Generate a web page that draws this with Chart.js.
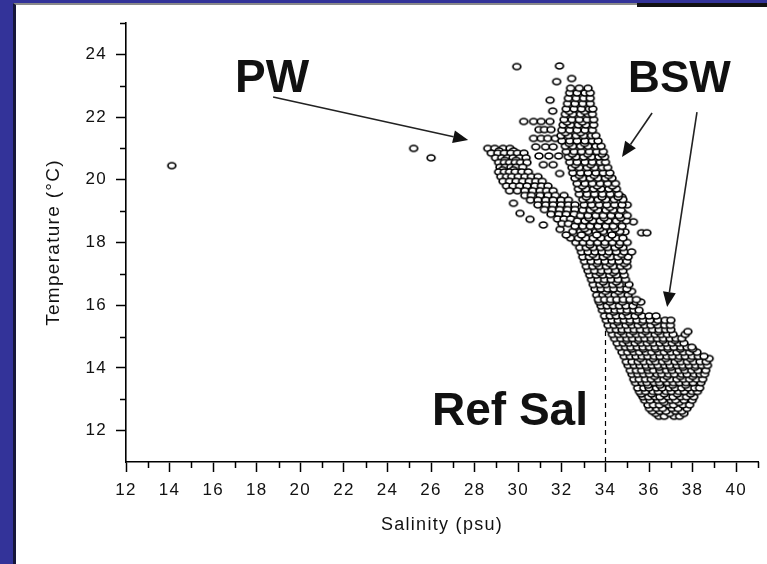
<!DOCTYPE html>
<html lang="en">
  <head>
    <meta charset="utf-8" />
    <title>Temperature vs Salinity</title>
    <script src="https://cdn.jsdelivr.net/npm/chart.js@4.4.1/dist/chart.umd.min.js"></script>
    <style>
      body {
        margin: 0;
        width: 767px;
        height: 564px;
        background: #333399;
        overflow: hidden;
        position: relative;
      }
      #panel {
        position: absolute;
        left: 13px;
        top: 3px;
        right: 0;
        bottom: 0;
        background: #fff;
        border-left: 3px solid #16163a;
        border-top: 2px solid #8a8a8a;
      }
      #bar {
        position: absolute;
        left: 637px;
        top: 3px;
        width: 130px;
        height: 4px;
        background: #111;
      }
      #tsChart {
        position: absolute;
        left: 0;
        top: 0;
      }
    </style>
  </head>
  <body>
    <div id="panel"></div>
    <div id="bar"></div>
    <canvas id="tsChart" width="767" height="564"></canvas>

    <script>
      // rows are [temperature, salinity, salinity, ...]
      var lowerBand = [
        [12.46, 36.45, 36.7, 37.15, 37.4],
        [12.55, 36.3, 36.95, 37.6],
        [12.62, 36.15, 36.5, 36.78, 37.22, 37.5],
        [12.71, 36.02, 36.35, 36.62, 37.05, 37.33, 37.74],
        [12.82, 35.95, 36.2, 36.48, 36.9, 37.12, 37.55, 37.86],
        [12.9, 36.7, 37.38],
        [12.97, 35.8, 36.05, 36.4, 36.62, 37.0, 37.22, 37.6, 37.98],
        [13.08, 35.72, 35.98, 36.28, 36.5, 36.86, 37.1, 37.45, 37.72, 38.05],
        [13.17, 35.64, 36.12, 36.7, 37.3, 37.9],
        [13.25, 35.56, 35.84, 36.18, 36.42, 36.78, 37.02, 37.36, 37.62, 37.98, 38.22],
        [13.36, 35.48, 35.76, 36.0, 36.34, 36.6, 36.94, 37.2, 37.5, 37.8, 38.1, 38.32],
        [13.45, 35.95, 36.5, 37.08, 37.68],
        [13.53, 35.38, 35.68, 35.9, 36.24, 36.48, 36.84, 37.12, 37.4, 37.7, 38.02, 38.38],
        [13.64, 35.3, 35.55, 35.84, 36.1, 36.4, 36.68, 36.98, 37.28, 37.58, 37.86, 38.18, 38.46],
        [13.73, 36.25, 36.82, 37.44, 38.0],
        [13.8, 35.22, 35.48, 35.75, 36.02, 36.36, 36.58, 36.9, 37.16, 37.5, 37.74, 38.08, 38.34, 38.55],
        [13.92, 35.14, 35.42, 35.66, 35.96, 36.2, 36.5, 36.8, 37.06, 37.38, 37.64, 37.96, 38.24, 38.6],
        [14.02, 35.9, 36.46, 37.0, 37.56, 38.1],
        [14.08, 35.04, 35.32, 35.58, 35.86, 36.14, 36.4, 36.72, 36.96, 37.28, 37.54, 37.84, 38.14, 38.42, 38.68],
        [14.2, 34.96, 35.22, 35.5, 35.76, 36.06, 36.3, 36.62, 36.88, 37.2, 37.46, 37.76, 38.04, 38.34, 38.62],
        [14.3, 35.6, 36.18, 36.76, 37.34, 37.9, 38.76],
        [14.37, 34.86, 35.14, 35.4, 35.68, 35.94, 36.24, 36.5, 36.82, 37.08, 37.4, 37.66, 37.98, 38.26, 38.52],
        [14.5, 34.76, 35.02, 35.3, 35.56, 35.86, 36.12, 36.44, 36.7, 37.0, 37.28, 37.58, 37.86, 38.2],
        [14.6, 35.2, 35.74, 36.3, 36.86, 37.44, 38.0],
        [14.66, 34.64, 34.92, 35.16, 35.46, 35.72, 36.02, 36.28, 36.58, 36.86, 37.14, 37.46, 37.74, 37.96],
        [14.79, 34.54, 34.82, 35.08, 35.36, 35.64, 35.92, 36.2, 36.5, 36.78, 37.06, 37.36, 37.6],
        [14.88, 34.96, 35.5, 36.06, 36.64, 37.2],
        [14.94, 34.42, 34.7, 34.98, 35.24, 35.54, 35.8, 36.1, 36.38, 36.66, 36.96, 37.24, 37.5],
        [15.07, 34.32, 34.6, 34.86, 35.14, 35.42, 35.7, 35.98, 36.28, 36.56, 36.84, 37.1, 37.66],
        [15.16, 34.72, 35.28, 35.84, 36.42, 37.78],
        [15.22, 34.22, 34.5, 34.76, 35.04, 35.32, 35.6, 35.9, 36.16, 36.46, 36.76, 37.0],
        [15.36, 34.12, 34.4, 34.66, 34.94, 35.22, 35.5, 35.8, 36.08, 36.4, 36.72, 36.98],
        [15.46, 34.55, 35.1, 35.66, 36.28],
        [15.52, 34.04, 34.3, 34.58, 34.86, 35.14, 35.44, 35.74, 36.04, 36.4, 36.74, 37.0],
        [15.66, 33.96, 34.22, 34.5, 34.8, 35.06, 35.36, 35.68, 36.0, 36.32],
        [15.78, 34.38, 34.94, 35.5],
        [15.84, 33.86, 34.14, 34.44, 34.7, 35.0, 35.3, 35.54],
        [15.98, 33.8, 34.08, 34.36, 34.64, 34.94, 35.26],
        [16.1, 33.72, 34.2, 34.78, 35.4, 35.62],
        [16.18, 33.68, 33.96, 34.24, 34.52, 34.82, 35.12, 35.42],
      ];

      var midBand = [
        [16.32, 33.6, 33.88, 34.16, 34.44, 34.74, 35.04],
        [16.44, 34.0, 34.6, 35.2],
        [16.52, 33.52, 33.8, 34.1, 34.38, 34.7, 34.98],
        [16.66, 33.44, 33.74, 34.02, 34.34, 34.64, 35.08],
        [16.74, 33.9, 34.5],
        [16.82, 33.36, 33.66, 33.96, 34.26, 34.58, 34.92],
        [16.96, 33.28, 33.58, 33.88, 34.2, 34.5, 34.86],
        [17.04, 33.74, 34.36],
        [17.1, 33.2, 33.5, 33.82, 34.12, 34.46, 34.8],
        [17.24, 33.12, 33.42, 33.72, 34.04, 34.36, 34.7, 35.0],
        [17.33, 33.6, 34.2, 34.86],
        [17.4, 33.04, 33.34, 33.66, 33.98, 34.3, 34.62, 34.98],
        [17.54, 32.96, 33.26, 33.58, 33.9, 34.24, 34.56, 35.04],
        [17.62, 33.42, 34.06, 34.74],
        [17.7, 32.9, 33.2, 33.52, 33.84, 34.16, 34.5, 34.86, 35.2],
        [17.84, 32.82, 33.12, 33.44, 33.78, 34.1, 34.44, 34.8],
        [17.92, 33.28, 33.96, 34.62],
        [18.0, 32.64, 32.98, 33.3, 33.64, 33.98, 34.32, 34.68, 35.0],
        [18.14, 32.4, 32.76, 33.1, 33.44, 33.8, 34.14, 34.5, 34.8],
        [18.24, 32.2, 32.9, 33.6, 34.3],
      ];

      var rightBranch = [
        [18.35, 32.5, 32.86, 33.2, 33.56, 33.9, 34.26, 34.66],
        [18.44, 33.04, 33.74, 34.44],
        [18.52, 32.6, 32.96, 33.3, 33.66, 34.02, 34.36, 34.76],
        [18.69, 32.72, 33.06, 33.42, 33.76, 34.12, 34.5, 34.96],
        [18.78, 33.24, 33.94, 34.7],
        [18.86, 32.86, 33.2, 33.56, 33.9, 34.26, 34.62, 35.0],
        [19.03, 32.96, 33.3, 33.66, 34.02, 34.36, 34.72],
        [19.12, 33.48, 34.2],
        [19.2, 33.02, 33.36, 33.72, 34.06, 34.42, 34.76],
        [19.37, 32.96, 33.3, 33.66, 34.02, 34.4, 34.8],
        [19.45, 33.12, 33.84, 34.58],
        [19.54, 32.8, 33.16, 33.5, 33.86, 34.22, 34.6],
        [19.71, 32.76, 33.1, 33.46, 33.8, 34.16, 34.5],
        [19.8, 32.94, 33.62, 34.32],
        [19.88, 32.7, 33.06, 33.4, 33.76, 34.1, 34.46],
        [20.05, 32.6, 32.96, 33.3, 33.66, 34.0, 34.3],
        [20.14, 32.8, 33.48, 34.14],
        [20.22, 32.5, 32.86, 33.2, 33.56, 33.9, 34.2],
        [20.39, 32.46, 32.8, 33.16, 33.5, 33.86, 34.1],
        [20.48, 32.62, 33.32],
        [20.56, 32.36, 32.7, 33.06, 33.4, 33.76, 34.0],
        [20.73, 32.3, 32.66, 33.0, 33.36, 33.7, 33.96],
        [20.82, 32.48, 33.18, 33.84],
        [20.9, 32.2, 32.56, 32.9, 33.26, 33.6, 33.9],
        [21.07, 32.16, 32.5, 32.86, 33.2, 33.56, 33.8],
        [21.16, 32.34, 33.04],
        [21.24, 32.0, 32.36, 32.7, 33.06, 33.4, 33.66],
        [21.41, 31.96, 32.3, 32.66, 33.0, 33.36, 33.56],
        [21.5, 32.16, 32.86],
        [21.58, 32.0, 32.36, 32.7, 33.06, 33.4],
        [21.75, 32.06, 32.4, 32.76, 33.1, 33.46],
        [21.84, 32.24, 32.94],
        [21.92, 32.1, 32.46, 32.8, 33.16, 33.46],
        [22.09, 32.16, 32.5, 32.86, 33.2, 33.4],
        [22.18, 32.34, 33.04],
        [22.26, 32.2, 32.56, 32.9, 33.26, 33.42],
        [22.43, 32.26, 32.6, 32.96, 33.3],
        [22.6, 32.3, 32.66, 33.0, 33.3],
        [22.77, 32.36, 32.7, 33.06, 33.3],
        [22.92, 32.4, 32.8, 33.2],
      ];

      var leftBlob = [
        [21.0, 28.6, 28.92, 29.3, 29.62],
        [20.92, 29.12, 29.78],
        [20.85, 28.76, 29.06, 29.36, 29.66, 29.96, 30.26],
        [20.7, 28.96, 29.24, 29.5, 29.76, 30.06, 30.36],
        [20.62, 29.38, 29.9],
        [20.55, 29.1, 29.36, 29.6, 29.86, 30.1, 30.4],
        [20.4, 29.16, 29.4, 29.66, 29.9, 30.2],
        [20.32, 29.28, 29.78],
        [20.25, 29.1, 29.36, 29.6, 29.86, 30.16, 30.46],
        [20.1, 29.2, 29.46, 29.7, 30.0, 30.3, 30.6, 30.9],
        [19.95, 29.3, 29.6, 29.9, 30.2, 30.5, 30.8, 31.1],
        [19.8, 29.46, 29.76, 30.06, 30.4, 30.76, 31.06, 31.36],
        [19.65, 29.6, 29.96, 30.3, 30.66, 31.0, 31.3, 31.6],
      ];

      var crossBand = [
        [19.5, 30.3, 30.6, 31.0, 31.36, 31.7, 32.1],
        [19.35, 30.56, 30.9, 31.26, 31.6, 31.96, 32.3],
        [19.2, 30.9, 31.26, 31.6, 31.96, 32.3, 32.6],
        [19.05, 31.2, 31.56, 31.9, 32.26, 32.6],
        [18.9, 31.5, 31.86, 32.2, 32.56],
        [18.75, 31.8, 32.1, 32.4],
        [18.6, 32.0, 32.3],
      ];

      var upperLeft = [
        [21.86, 30.25, 30.7, 31.05, 31.45],
        [21.6, 30.95, 31.2, 31.5],
        [21.32, 30.7, 31.05, 31.35, 31.7],
        [21.05, 30.8, 31.25, 31.6],
        [20.76, 30.95, 31.4, 31.85],
        [20.48, 31.15, 31.6],
        [20.2, 31.9],
      ];

      // single readings as [salinity, temperature]
      var scattered = [
        [14.1, 20.45], [25.2, 21.0], [26.0, 20.7],
        [29.93, 23.61], [31.89, 23.63], [31.76, 23.13], [32.45, 23.23],
        [31.46, 22.54], [31.58, 22.19],
        [29.78, 19.25], [30.08, 18.93], [30.54, 18.74], [31.15, 18.56], [31.92, 18.42],
        [34.82, 18.93], [35.28, 18.66], [34.9, 18.34], [35.66, 18.31], [35.9, 18.31],
        [34.75, 19.45], [35.0, 19.2],
      ];

      var callouts = [
        { text: "PW", sal: 17.0, temp: 22.8, size: 46 },
        { text: "BSW", sal: 35.04, temp: 22.8, size: 44 },
        { text: "Ref Sal", sal: 26.04, temp: 12.18, size: 46 },
      ];

      // [fromSal, fromTemp, toSal, toTemp]
      var arrows = [
        [18.75, 22.64, 27.7, 21.27],
        [36.14, 22.13, 34.76, 20.73],
        [38.2, 22.16, 36.83, 15.94],
      ];

      var refSal = 34;
      var refSalTop = 15.3;

      var salMin = 12, salMax = 41;
      var tempMin = 11, tempMax = 25;

      var rowsToPoints = (rows) =>
        rows.flatMap(([t, ...s]) => s.map((x) => ({ x: x, y: t })));

      var points = []
        .concat(scattered.map(([x, y]) => ({ x: x, y: y })))
        .concat(rowsToPoints(upperLeft))
        .concat(rowsToPoints(leftBlob))
        .concat(rowsToPoints(crossBand))
        .concat(rowsToPoints(rightBranch))
        .concat(rowsToPoints(midBand))
        .concat(rowsToPoints(lowerBand));

      // small open ellipse used as the marker
      let ring = () => {
        let c = document.createElement("canvas");
        c.width = 12;
        c.height = 10;
        let g = c.getContext("2d");
        g.beginPath();
        g.ellipse(6, 5, 3.9, 3.0, 0, 0, 2 * Math.PI);
        g.fillStyle = "#fff";
        g.fill();
        g.lineWidth = 1.7;
        g.strokeStyle = "#000";
        g.stroke();
        return c;
      };

      let evenOnly = (scale) => {
        scale.ticks = scale.ticks.filter((t) => t.value % 2 === 0);
      };

      var spacing = {
        id: "spacing",
        beforeDraw: (chart) => {
          chart.ctx.letterSpacing = "1.3px";
        },
      };

      // short ticks at the odd values
      var minorTicks = {
        id: "minorTicks",
        afterDraw: (chart) => {
          let ctx = chart.ctx;
          let xs = chart.scales.x;
          let ys = chart.scales.y;
          ctx.save();
          ctx.strokeStyle = "#000";
          ctx.lineWidth = 1.5;
          ctx.beginPath();
          for (let v = salMin + 1; v <= salMax; v += 2) {
            let px = Math.round(xs.getPixelForValue(v)) + 0.5;
            ctx.moveTo(px, ys.bottom);
            ctx.lineTo(px, ys.bottom + 6);
          }
          for (let v = tempMin + 2; v <= tempMax; v += 2) {
            let py = Math.round(ys.getPixelForValue(v)) + 0.5;
            ctx.moveTo(xs.left, py);
            ctx.lineTo(xs.left - 6, py);
          }
          ctx.stroke();
          ctx.restore();
        },
      };

      var notes = {
        id: "notes",
        afterDatasetsDraw: (chart) => {
          let ctx = chart.ctx;
          let xs = chart.scales.x;
          let ys = chart.scales.y;
          ctx.save();
          ctx.letterSpacing = "0px";

          // reference salinity line
          ctx.strokeStyle = "#000";
          ctx.lineWidth = 1.2;
          ctx.setLineDash([5, 4]);
          ctx.beginPath();
          let rx = Math.round(xs.getPixelForValue(refSal)) + 0.5;
          ctx.moveTo(rx, ys.getPixelForValue(tempMin));
          ctx.lineTo(rx, ys.getPixelForValue(refSalTop));
          ctx.stroke();
          ctx.setLineDash([]);

          ctx.fillStyle = "#111";
          ctx.textBaseline = "alphabetic";
          ctx.textAlign = "left";
          callouts.forEach((c) => {
            ctx.font = "bold " + c.size + "px 'Liberation Sans', Arial, sans-serif";
            ctx.fillText(c.text, xs.getPixelForValue(c.sal), ys.getPixelForValue(c.temp));
          });

          ctx.strokeStyle = "#222";
          ctx.fillStyle = "#111";
          ctx.lineWidth = 1.6;
          arrows.forEach(([s0, t0, s1, t1]) => {
            let x0 = xs.getPixelForValue(s0), y0 = ys.getPixelForValue(t0);
            let x1 = xs.getPixelForValue(s1), y1 = ys.getPixelForValue(t1);
            let a = Math.atan2(y1 - y0, x1 - x0);
            let head = 15, half = 6.5;
            let bx = x1 - head * Math.cos(a), by = y1 - head * Math.sin(a);
            ctx.beginPath();
            ctx.moveTo(x0, y0);
            ctx.lineTo(bx, by);
            ctx.stroke();
            ctx.beginPath();
            ctx.moveTo(x1, y1);
            ctx.lineTo(bx + half * Math.sin(a), by - half * Math.cos(a));
            ctx.lineTo(bx - half * Math.sin(a), by + half * Math.cos(a));
            ctx.closePath();
            ctx.fill();
          });
          ctx.restore();
        },
      };

      var tickFont = { family: "'Liberation Sans', Arial, sans-serif", size: 17 };

      var tsChart = new Chart(document.getElementById("tsChart"), {
        type: "scatter",
        data: {
          datasets: [
            {
              label: "T-S",
              data: points,
              pointStyle: ring(),
              pointRadius: 4,
            },
          ],
        },
        options: {
          responsive: false,
          animation: false,
          devicePixelRatio: 1,
          layout: { padding: { left: 0, top: 23, right: 9, bottom: 0 } },
          plugins: {
            legend: { display: false },
            tooltip: { enabled: false },
          },
          scales: {
            x: {
              type: "linear",
              min: salMin,
              max: salMax,
              ticks: { stepSize: 1, color: "#111", font: tickFont, padding: 8, maxRotation: 0 },
              afterBuildTicks: evenOnly,
              afterFit: (scale) => {
                scale.height = 102;
              },
              grid: {
                drawOnChartArea: false,
                drawTicks: true,
                tickLength: 10,
                tickColor: "#000",
                tickWidth: 1.5,
              },
              border: { color: "#000", width: 1.6 },
              title: {
                display: true,
                text: "Salinity (psu)",
                color: "#111",
                font: { family: "'Liberation Sans', Arial, sans-serif", size: 18 },
                padding: { top: 0, bottom: 28 },
              },
            },
            y: {
              type: "linear",
              min: tempMin,
              max: tempMax,
              ticks: { stepSize: 1, color: "#111", font: tickFont, padding: 9 },
              afterBuildTicks: evenOnly,
              afterFit: (scale) => {
                scale.width = 126;
              },
              grid: {
                drawOnChartArea: false,
                drawTicks: true,
                tickLength: 10,
                tickColor: "#000",
                tickWidth: 1.5,
              },
              border: { color: "#000", width: 1.6 },
              title: {
                display: true,
                text: "Temperature (°C)",
                color: "#111",
                font: { family: "'Liberation Sans', Arial, sans-serif", size: 19 },
                padding: { top: 42, bottom: 0 },
              },
            },
          },
        },
        plugins: [spacing, minorTicks, notes],
      });
    </script>
  </body>
</html>
